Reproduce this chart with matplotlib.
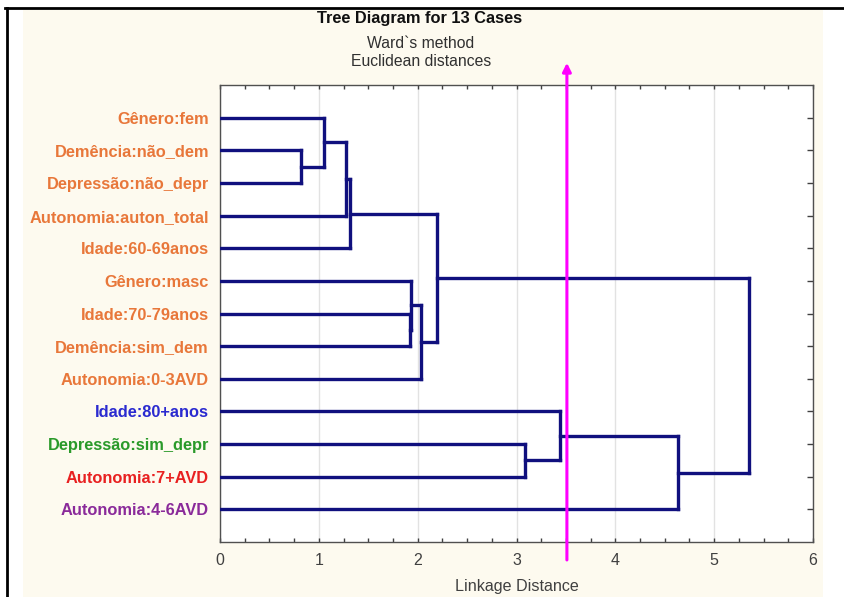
import matplotlib
matplotlib.use("Agg")
import matplotlib.pyplot as plt
from matplotlib.patches import Rectangle

plt.rcParams['font.family'] = ['Liberation Sans', 'DejaVu Sans']

# ---- data ----
leaf_labels = ["Gênero:fem", "Demência:não_dem", "Depressão:não_depr",
               "Autonomia:auton_total", "Idade:60-69anos", "Gênero:masc",
               "Idade:70-79anos", "Demência:sim_dem", "Autonomia:0-3AVD",
               "Idade:80+anos", "Depressão:sim_depr", "Autonomia:7+AVD",
               "Autonomia:4-6AVD"]
label_colors = ["#e8773a"] * 9 + ["#2a2ad0", "#2a9a2a", "#e82020", "#8a2a9a"]
# merges: (child_a, child_b, linkage distance); new node ids start at 13
merge_a = [1, 0, 14, 15, 6, 5, 18, 16, 10, 9, 22, 20]
merge_b = [2, 13, 3, 4, 7, 17, 8, 19, 11, 21, 12, 23]
merge_h = [0.82, 1.05, 1.275, 1.315, 1.92, 1.93, 2.035, 2.20, 3.09, 3.44, 4.63, 5.35]
cut_level = 3.51
x_ticks = [0, 1, 2, 3, 4, 5, 6]

fig = plt.figure(figsize=(8.44, 5.97), dpi=100)
fig.patch.set_facecolor("white")

# cream panel and outer black frame lines (background axes)
bg = fig.add_axes([0, 0, 1, 1], zorder=-5)
bg.set_xlim(0, 844)
bg.set_ylim(597, 0)
bg.axis("off")
bg.add_patch(Rectangle((23, 10), 800, 600, facecolor="#fdfaef", edgecolor="none"))
bg.plot([5, 844], [8, 8], color="black", lw=2, clip_on=False)
bg.plot([7, 7], [8, 600], color="black", lw=2, clip_on=False)

ax = fig.add_axes([220 / 844, 1 - 542 / 597, (813 - 220) / 844, (542 - 85) / 597], zorder=1)
ax.set_facecolor("white")

n = len(leaf_labels)
ypos = {i: i + 1 for i in range(n)}
hpos = {i: 0.0 for i in range(n)}
line_col = "#10107e"
for k, (a, b, h) in enumerate(zip(merge_a, merge_b, merge_h)):
    node = n + k
    ya, yb = ypos[a], ypos[b]
    ax.plot([hpos[a], h], [ya, ya], color=line_col, lw=2.4, solid_capstyle="projecting", zorder=3)
    ax.plot([hpos[b], h], [yb, yb], color=line_col, lw=2.4, solid_capstyle="projecting", zorder=3)
    ax.plot([h, h], [ya, yb], color=line_col, lw=2.4, solid_capstyle="projecting", zorder=3)
    ypos[node] = (ya + yb) / 2
    hpos[node] = h

ax.set_xlim(0, 6)
ax.set_ylim(n + 1, 0)
ax.set_xticks(x_ticks)
ax.set_xticks([t / 4 for t in range(0, 25)], minor=True)
ax.set_xticklabels([str(t) for t in x_ticks], fontsize=11.5, color="#404040")
ax.grid(axis="x", which="major", color="#e2e2e2", lw=1, zorder=0)
ax.tick_params(axis="x", which="both", direction="in", top=True, bottom=True,
               length=3, width=1, color="#404040", pad=8)
ax.set_yticks(range(1, n + 1))
ax.set_yticklabels(leaf_labels, fontsize=11.8, fontweight="bold")
for lbl, c in zip(ax.get_yticklabels(), label_colors):
    lbl.set_color(c)
ax.tick_params(axis="y", which="both", left=False, right=True, direction="in",
               length=4, width=1, color="#404040", pad=8)
for s in ax.spines.values():
    s.set_color("#505050")
    s.set_linewidth(1)
ax.set_xlabel("Linkage Distance", fontsize=11.6, color="#404040", labelpad=8)

# cut line with arrow
ax.annotate("", xy=(cut_level, -0.68), xytext=(cut_level, 14.55),
            xycoords="data", textcoords="data", annotation_clip=False,
            arrowprops=dict(arrowstyle="-|>,head_length=0.5,head_width=0.25",
                            color="#ff00ff", lw=2.2, shrinkA=0, shrinkB=0), zorder=5)

fig.text(420 / 844, 1 - 18 / 597, "Tree Diagram for 13 Cases", ha="center", va="center",
         fontsize=11.8, fontweight="bold", color="#101010")
fig.text(421 / 844, 1 - 43 / 597, "Ward`s method", ha="center", va="center",
         fontsize=11.3, color="#303030")
fig.text(421 / 844, 1 - 62 / 597, "Euclidean distances", ha="center", va="center",
         fontsize=11.3, color="#303030")

fig.savefig("out.png", dpi=100, facecolor=fig.get_facecolor())
